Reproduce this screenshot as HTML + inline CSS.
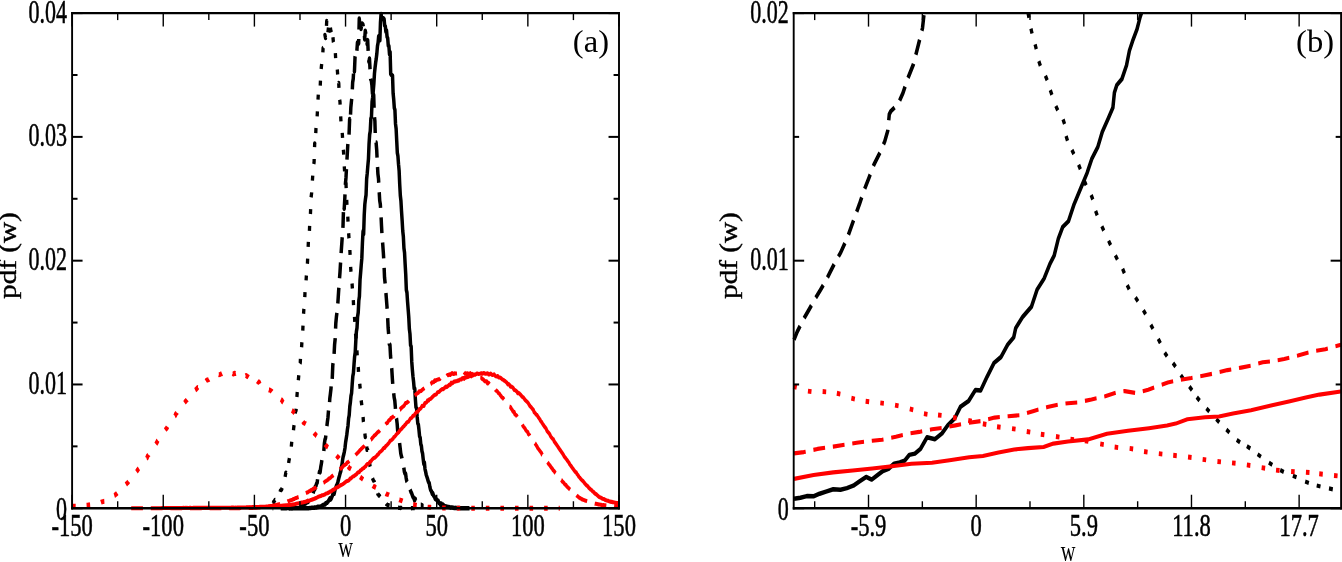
<!DOCTYPE html>
<html><head><meta charset="utf-8"><title>pdf(w)</title>
<style>html,body{margin:0;padding:0;background:#fff;overflow:hidden}svg{display:block;will-change:transform}</style>
</head><body>
<svg width="1342" height="562" viewBox="0 0 1342 562" font-family="'Liberation Serif', serif" fill="#000">
<defs><clipPath id="ca"><rect x="69.60" y="10.10" width="551.90" height="501.15"/></clipPath><clipPath id="cb"><rect x="791.20" y="10.10" width="552.40" height="501.15"/></clipPath></defs>
<g clip-path="url(#ca)"><g transform="scale(0.77500 1)"><path d="M372.95 508.24 L373.73 508.25 L374.50 508.25 L375.28 508.25 L376.06 508.24 L376.83 508.25 L377.61 508.22 L378.38 508.25 L379.16 508.24 L379.94 508.25 L380.71 508.22 L381.49 508.25 L382.27 508.25 L383.04 508.25 L383.82 508.21 L384.59 508.25 L385.37 508.24 L386.15 508.25 L386.92 508.22 L387.70 508.20 L388.48 508.25 L389.25 508.17 L390.03 508.17 L390.80 508.18 L391.58 508.15 L392.36 508.22 L393.13 508.18 L393.91 508.21 L394.69 508.16 L395.46 508.10 L396.24 508.17 L397.01 508.13 L397.79 508.13 L398.57 508.13 L399.34 508.09 L400.12 508.00 L400.90 508.08 L401.67 507.91 L402.45 507.70 L403.22 507.75 L404.00 507.81 L404.78 507.85 L405.55 507.78 L406.33 507.34 L407.11 507.51 L407.88 507.53 L408.66 507.29 L409.43 506.81 L410.21 507.07 L410.99 506.82 L411.76 506.74 L412.54 506.73 L413.32 506.75 L414.09 506.35 L414.87 506.09 L415.64 505.62 L416.42 505.26 L417.20 504.92 L417.97 504.81 L418.75 504.23 L419.53 504.46 L420.30 503.24 L421.08 503.07 L421.85 502.91 L422.63 502.01 L423.41 501.68 L424.18 500.42 L424.96 499.48 L425.74 498.31 L426.51 499.53 L427.29 498.70 L428.06 497.18 L428.84 495.72 L429.62 494.10 L430.39 493.28 L431.17 493.74 L431.95 491.07 L432.72 488.65 L433.50 487.54 L434.27 485.35 L435.05 484.42 L435.83 482.46 L436.60 480.00 L437.38 477.55 L438.16 475.41 L438.93 472.99 L439.71 471.26 L440.48 467.21 L441.26 464.55 L442.04 460.10 L442.81 456.63 L443.59 454.48 L444.37 451.59 L445.14 448.12 L445.92 442.46 L446.69 438.72 L447.47 434.92 L448.25 429.61 L449.02 425.86 L449.80 418.44 L450.58 415.18 L451.35 406.51 L452.13 402.27 L452.90 395.89 L453.68 393.12 L454.46 384.10 L455.23 376.22 L456.01 373.09 L456.79 364.52 L457.56 356.57 L458.34 352.45 L459.11 340.73 L459.89 331.53 L460.67 327.80 L461.44 316.47 L462.22 312.51 L463.00 300.58 L463.77 296.29 L464.55 279.80 L465.32 272.87 L466.10 265.10 L466.88 258.23 L467.65 242.81 L468.43 231.34 L469.21 234.05 L469.98 214.88 L470.76 204.22 L471.53 199.12 L472.31 195.02 L473.09 178.82 L473.86 173.27 L474.64 165.74 L475.42 159.08 L476.19 143.96 L476.97 134.45 L477.74 131.22 L478.52 118.77 L479.30 117.03 L480.07 101.94 L480.85 97.34 L481.63 91.06 L482.40 83.86 L483.18 73.48 L483.95 67.67 L484.73 62.59 L485.51 58.50 L486.28 53.37 L487.06 46.05 L487.84 42.70 L488.61 36.16 L489.39 35.75 L490.16 40.34 L490.94 22.12 L491.72 13.99 L492.49 18.59 L493.27 19.02 L494.05 18.29 L494.82 18.36 L495.60 18.94 L496.37 25.77 L497.15 26.10 L497.93 31.57 L498.70 30.36 L499.48 36.89 L500.26 38.19 L501.03 45.68 L501.81 45.94 L502.58 54.26 L503.36 51.79 L504.14 73.83 L504.91 74.87 L505.69 75.12 L506.47 75.47 L507.24 93.23 L508.02 99.36 L508.79 107.93 L509.57 109.88 L510.35 123.99 L511.12 128.70 L511.90 140.83 L512.68 152.88 L513.45 156.01 L514.23 164.31 L515.00 170.66 L515.78 184.65 L516.56 195.57 L517.33 200.92 L518.11 211.30 L518.89 220.50 L519.66 230.94 L520.44 236.39 L521.21 248.10 L521.99 252.71 L522.77 264.24 L523.54 274.61 L524.32 289.99 L525.10 292.51 L525.87 301.68 L526.65 309.16 L527.42 316.93 L528.20 328.83 L528.98 333.76 L529.75 344.98 L530.53 346.60 L531.30 361.73 L532.08 369.83 L532.86 376.50 L533.63 381.56 L534.41 388.57 L535.19 388.61 L535.96 399.37 L536.74 407.23 L537.51 408.26 L538.29 416.90 L539.07 423.28 L539.84 424.64 L540.62 429.94 L541.40 436.31 L542.17 437.83 L542.95 444.04 L543.72 445.89 L544.50 451.37 L545.28 453.58 L546.05 459.02 L546.83 463.99 L547.61 462.50 L548.38 469.10 L549.16 471.45 L549.93 474.60 L550.71 476.50 L551.49 478.34 L552.26 480.57 L553.04 482.18 L553.82 483.07 L554.59 486.62 L555.37 489.23 L556.14 490.71 L556.92 491.73 L557.70 493.83 L558.47 493.25 L559.25 495.36 L560.03 496.32 L560.80 497.13 L561.58 498.91 L562.35 499.44 L563.13 499.37 L563.91 500.16 L564.68 501.40 L565.46 500.94 L566.24 502.99 L567.01 503.07 L567.79 503.51 L568.56 504.97 L569.34 503.55 L570.12 504.52 L570.89 505.35 L571.67 504.65 L572.45 505.42 L573.22 505.74 L574.00 506.27 L574.77 506.29 L575.55 506.89 L576.33 506.50 L577.10 506.93 L577.88 506.97 L578.66 506.89 L579.43 507.19 L580.21 507.31 L580.98 507.40 L581.76 507.65 L582.54 507.49 L583.31 507.47 L584.09 507.65 L584.87 507.69 L585.64 507.96 L586.42 508.00 L587.19 508.09 L587.97 507.85 L588.75 508.03 L589.52 507.91 L590.30 508.13 L591.08 508.12 L591.85 508.10 L592.63 508.06 L593.40 508.13 L594.18 508.14 L594.96 508.16 L595.73 508.17 L596.51 508.24 L597.29 508.19 L598.06 508.21 L598.84 508.21 L599.61 508.19 L600.39 508.24 L601.17 508.22 L601.94 508.23 L602.72 508.22 L603.50 508.21 L604.27 508.25 L605.05 508.22 L605.82 508.19" stroke="#000" stroke-width="4.50" fill="none" stroke-linejoin="round" stroke-linecap="butt"/>
<path d="M351.78 508.25 L352.56 508.24 L352.58 508.25M362.07 508.23 L362.65 508.19 L363.42 508.23 L364.20 508.20 L364.98 508.14 L365.75 508.22 L366.53 508.17 L367.31 508.21 L368.08 508.16 L368.86 508.12 L369.63 508.19 L370.41 508.12 L371.19 508.10 L371.96 508.11 L372.74 508.13 L373.52 508.13 L374.29 507.98 L375.07 507.96 L375.84 507.63 L376.62 508.13 L377.40 507.77 L377.54 507.76M386.27 506.38 L386.71 506.52 L387.49 506.07 L388.26 505.99 L389.04 506.01 L389.82 505.46 L390.59 504.85 L391.37 504.99 L392.15 504.63 L392.92 504.13 L393.70 503.50 L394.47 502.66 L395.25 502.97 L396.03 501.89 L396.80 501.42 L397.58 501.82 L398.36 500.38 L398.77 499.88M404.03 493.40 L404.57 491.49 L405.34 489.88 L406.12 489.49 L406.89 486.58 L407.67 485.91 L408.45 483.64 L409.22 482.78 L409.79 479.26M411.72 474.27 L412.33 471.57 L413.10 472.03 L413.88 467.00 L414.66 463.82 L415.31 460.12M417.83 451.04 L418.54 443.76 L419.31 439.76 L420.09 438.00 L420.42 435.54M421.80 426.14 L422.42 421.91 L423.20 417.31 L423.88 410.48M425.29 402.08 L425.52 398.64 L426.30 393.81 L427.08 388.69 L427.26 386.42M428.69 378.93 L429.41 365.33 L429.71 363.17M431.11 353.79 L431.73 344.66 L432.51 338.64 L432.54 338.06M433.02 328.57 L433.29 323.36 L434.06 316.96 L434.73 312.88M435.90 303.46 L436.39 297.75 L437.17 288.25 L437.22 287.71M438.11 278.26 L438.72 271.97 L439.45 262.51M440.18 253.04 L440.27 251.77 L441.05 243.22 L441.57 237.30M442.42 227.84 L442.60 225.84 L443.12 212.06M443.91 207.74 L444.15 208.92 L444.93 198.10 L445.13 194.36M445.65 184.87 L445.71 183.88 L446.48 177.20 L447.01 169.14M447.69 159.66 L448.04 155.02 L448.81 144.39 L448.87 143.90M450.39 134.58 L451.14 119.01 L451.20 119.22M452.30 114.53 L452.69 107.43 L453.47 101.23 L453.83 98.81M454.63 89.35 L455.02 82.54 L455.80 78.80 L456.15 73.66M457.25 71.02 L457.35 71.50 L458.13 56.54 L458.19 56.22M460.49 50.74 L461.23 42.39 L462.01 44.17 L462.78 43.32 L462.92 38.99M463.22 29.50 L463.56 18.61 L464.07 23.49M465.29 22.82 L465.89 29.03 L466.66 23.72 L467.44 23.57 L468.22 24.32 L468.74 26.58M470.26 35.90 L470.55 39.42 L471.32 30.67 L472.06 34.09M473.57 43.11 L473.65 44.12 L474.43 40.11 L475.04 50.79M475.83 60.26 L475.98 61.89 L476.76 58.54 L477.48 69.25M478.26 78.71 L478.31 79.28 L479.08 80.42 L479.86 84.88 L480.64 94.10 L480.65 94.17M481.81 97.70 L482.19 94.84 L482.68 107.74M483.22 117.22 L483.74 121.01 L484.18 132.97M484.57 142.42 L485.29 142.52 L486.07 149.93 L486.52 157.54M487.14 167.02 L487.62 173.84 L488.40 178.65 L488.67 182.73M489.32 192.21 L489.95 200.63 L490.73 204.28 L491.04 207.89M491.76 217.36 L492.28 225.89 L492.76 233.13M493.66 242.58 L493.83 244.00 L494.61 252.36 L495.08 258.31M495.67 267.80 L496.16 277.40 L496.94 283.16 L496.98 283.53M497.99 292.97 L498.49 298.15 L499.27 305.89 L499.51 308.70M500.23 318.17 L500.82 328.10 L501.47 333.92M502.30 343.38 L502.37 344.21 L503.15 344.65 L503.92 356.07 L504.24 358.68M505.41 368.11 L505.48 368.63 L506.25 378.53 L506.75 383.85M508.00 393.26 L508.58 397.49 L509.36 400.30 L510.13 407.36 L510.26 408.87M511.51 418.24 L511.69 418.73 L512.46 423.78 L513.24 431.73 L513.77 433.85M515.58 442.98 L516.34 447.97 L517.12 453.31 L517.90 456.04 L518.67 458.26 L518.70 458.42M521.05 467.60 L521.78 471.79 L522.55 473.81 L523.33 473.65 L524.11 478.17 L524.88 481.34 L525.29 481.95M529.12 489.48 L529.54 490.38 L530.32 492.17 L531.09 493.04 L531.87 494.80 L532.65 496.48 L533.42 497.71 L534.20 498.29 L534.97 500.35 L535.75 498.70 L536.16 500.11M542.90 504.87 L543.51 504.87 L544.29 505.15 L545.07 505.71 L545.84 505.95 L546.62 505.96" stroke="#000" stroke-width="4.50" fill="none" stroke-linejoin="round" stroke-linecap="butt"/>
<path d="M351.80 503.36 L352.49 503.25 L353.26 501.68 L354.04 501.05 L354.82 499.94 L355.01 499.98M361.44 491.88 L361.80 490.66 L362.58 490.19 L363.35 489.70 L364.08 487.94M367.90 476.88 L368.01 476.39 L368.79 472.60 L369.17 473.10M372.45 462.97 L372.67 461.52 L373.44 458.29 L373.47 458.08M375.91 446.64 L376.42 441.67M378.70 430.14 L378.88 428.62 L379.41 425.19M381.02 413.51 L381.21 411.84 L381.98 410.51 L382.13 408.73M383.11 396.97 L383.54 392.15 L383.56 391.99M384.94 380.28 L385.09 378.93 L385.50 375.31M386.95 363.65 L387.42 362.86 L387.68 358.79M389.15 347.25 L389.51 342.26M390.70 330.54 L390.95 325.55M391.70 313.77 L392.07 309.31 L392.16 308.80M393.28 297.07 L393.55 292.07M394.97 280.44 L395.18 277.41 L395.35 275.45M396.60 263.72 L396.73 262.79 L396.96 258.74M397.62 246.96 L397.90 241.97M399.27 230.83 L399.52 225.83M400.52 214.09 L400.61 213.39 L400.83 209.10M401.44 197.31 L402.17 192.49 L402.18 192.37M403.10 180.61 L403.52 175.62M404.87 163.92 L405.27 162.25 L405.41 158.97M405.89 147.18 L406.05 143.39 L406.70 144.40M407.44 133.03 L407.60 130.14 L407.77 128.04M409.23 116.37 L409.57 111.38M410.36 99.61 L410.69 94.62M413.22 85.72 L413.50 80.72M414.45 68.97 L414.59 67.60 L415.06 64.00M416.59 52.33 L416.91 47.98 L417.44 47.61M419.11 36.03 L419.24 34.84 L420.02 38.10 L420.09 37.66M421.26 25.93 L421.57 20.98 L421.58 21.03M423.14 32.42 L423.83 27.47M426.30 27.52 L427.01 31.32 L427.32 32.41M429.62 37.32 L430.11 41.60 L430.32 42.26M432.73 53.15 L433.09 58.14M435.21 69.52 L435.54 72.81 L435.66 74.50M437.08 83.06 L437.10 83.02 L437.35 87.98M438.26 99.72 L438.65 101.39 L438.86 104.67M439.61 116.45 L439.94 121.44M441.59 132.92 L441.75 134.63 L442.01 137.91M443.04 149.66 L443.31 152.24 L443.46 154.64M444.24 166.42 L444.65 171.40M446.28 183.04 L446.41 183.43 L446.68 188.01M447.37 199.79 L447.65 204.78M448.76 216.52 L449.06 221.51M449.88 233.29 L450.29 238.23 L450.30 238.27M451.44 250.00 L451.73 254.99M452.45 266.77 L452.62 269.57 L452.87 271.75M454.26 283.47 L454.70 288.45M455.91 300.18 L456.18 305.17M457.40 316.89 L457.82 321.88M458.79 333.64 L458.83 334.16 L459.46 338.59M460.54 350.34 L460.90 355.33M462.27 367.00 L462.58 371.99M464.13 383.68 L464.27 384.89 L464.79 388.64M466.05 400.36 L466.59 403.63 L466.81 405.30M468.50 416.97 L468.92 421.65 L468.99 421.94M470.83 433.59 L471.25 437.04 L471.85 435.63M473.15 446.49 L473.58 449.93 L474.36 449.61 L474.43 450.30M476.80 461.76 L477.46 466.03 L477.65 466.68M480.66 478.07 L481.34 479.71 L482.12 480.77 L482.90 481.70 L483.12 482.36M487.32 493.23 L487.55 494.06 L488.33 494.51 L489.11 495.71 L489.88 495.93 L490.59 496.65M498.20 503.65 L498.42 503.92 L499.20 504.50 L499.97 504.79 L500.75 504.97 L501.53 505.34 L502.30 505.47 L502.70 505.57M513.64 507.70 L513.95 507.71 L514.72 507.84 L515.50 507.92 L516.27 507.93 L517.05 508.01 L517.83 507.82 L518.57 508.02M530.23 508.25 L530.25 508.25 L531.02 508.23 L531.80 508.15 L532.58 508.20 L533.35 508.22 L534.13 508.21 L534.90 508.20 L535.23 508.21" stroke="#000" stroke-width="4.30" fill="none" stroke-linejoin="round" stroke-linecap="butt"/>
<path d="M208.29 507.99 L209.47 507.98 L210.65 508.01 L211.82 507.98 L213.00 508.00 L214.17 508.02 L215.35 508.00 L216.53 507.97 L217.70 507.98 L218.88 508.00 L220.05 507.97 L221.23 507.98 L222.41 507.96 L223.58 507.96 L224.76 507.99 L225.93 507.96 L227.11 507.98 L228.29 507.93 L229.46 507.94 L230.64 507.95 L231.82 507.97 L232.99 507.95 L234.17 507.94 L235.34 507.97 L236.52 507.89 L237.70 507.93 L238.87 507.90 L240.05 507.95 L241.22 507.89 L242.40 507.95 L243.58 507.94 L244.75 507.91 L245.93 507.91 L247.11 507.96 L248.28 507.93 L249.46 507.88 L250.63 507.85 L251.81 507.88 L252.99 507.90 L254.16 507.87 L255.34 507.91 L256.51 507.87 L257.69 507.91 L258.87 507.88 L260.04 507.87 L261.22 507.85 L262.39 507.87 L263.57 507.83 L264.75 507.86 L265.92 507.83 L267.10 507.83 L268.28 507.89 L269.45 507.84 L270.63 507.83 L271.80 507.85 L272.98 507.82 L274.16 507.86 L275.33 507.80 L276.51 507.80 L277.68 507.80 L278.86 507.74 L280.04 507.79 L281.21 507.79 L282.39 507.80 L283.57 507.77 L284.74 507.80 L285.92 507.73 L287.09 507.78 L288.27 507.75 L289.45 507.69 L290.62 507.71 L291.80 507.72 L292.97 507.68 L294.15 507.72 L295.33 507.68 L296.50 507.70 L297.68 507.72 L298.85 507.67 L300.03 507.64 L301.21 507.67 L302.38 507.68 L303.56 507.66 L304.74 507.70 L305.91 507.64 L307.09 507.64 L308.26 507.53 L309.44 507.59 L310.62 507.60 L311.79 507.50 L312.97 507.52 L314.14 507.49 L315.32 507.46 L316.50 507.43 L317.67 507.42 L318.85 507.35 L320.03 507.33 L321.20 507.34 L322.38 507.30 L323.55 507.30 L324.73 507.22 L325.91 507.17 L327.08 507.14 L328.26 507.11 L329.43 507.11 L330.61 507.00 L331.79 507.04 L332.96 507.00 L334.14 506.98 L335.31 506.92 L336.49 506.89 L337.67 506.75 L338.84 506.78 L340.02 506.83 L341.20 506.73 L342.37 506.73 L343.55 506.57 L344.72 506.50 L345.90 506.54 L347.08 506.44 L348.25 506.43 L349.43 506.35 L350.60 506.23 L351.78 506.29 L352.96 506.28 L354.13 506.12 L355.31 506.08 L356.49 506.01 L357.66 505.93 L358.84 505.96 L360.01 505.98 L361.19 505.73 L362.37 505.75 L363.54 505.73 L364.72 505.65 L365.89 505.43 L367.07 505.42 L368.25 505.33 L369.42 505.21 L370.60 505.23 L371.77 505.17 L372.95 505.06 L374.13 504.97 L375.30 504.81 L376.48 504.73 L377.66 504.52 L378.83 504.41 L380.01 504.21 L381.18 503.98 L382.36 503.73 L383.54 503.52 L384.71 503.45 L385.89 503.24 L387.06 503.10 L388.24 502.75 L389.42 502.48 L390.59 502.45 L391.77 502.09 L392.95 501.95 L394.12 501.68 L395.30 501.39 L396.47 501.18 L397.65 500.77 L398.83 500.74 L400.00 500.35 L401.18 499.98 L402.35 499.75 L403.53 499.25 L404.71 499.12 L405.88 498.58 L407.06 498.40 L408.23 497.87 L409.41 497.41 L410.59 496.82 L411.76 496.60 L412.94 496.15 L414.12 495.99 L415.29 495.33 L416.47 495.27 L417.64 494.88 L418.82 494.62 L420.00 493.99 L421.17 493.44 L422.35 493.24 L423.52 492.74 L424.70 492.26 L425.88 491.73 L427.05 491.24 L428.23 490.82 L429.41 489.82 L430.58 489.82 L431.76 489.09 L432.93 488.31 L434.11 487.65 L435.29 487.32 L436.46 486.80 L437.64 486.20 L438.81 485.72 L439.99 484.96 L441.17 484.67 L442.34 484.20 L443.52 483.54 L444.69 482.84 L445.87 482.01 L447.05 481.31 L448.22 481.07 L449.40 480.64 L450.58 479.96 L451.75 478.54 L452.93 478.38 L454.10 477.49 L455.28 476.46 L456.46 476.32 L457.63 475.49 L458.81 474.85 L459.98 474.23 L461.16 473.05 L462.34 472.23 L463.51 472.15 L464.69 470.70 L465.87 470.21 L467.04 469.32 L468.22 468.52 L469.39 468.10 L470.57 467.04 L471.75 466.40 L472.92 464.84 L474.10 463.93 L475.27 463.63 L476.45 463.12 L477.63 461.65 L478.80 461.15 L479.98 459.76 L481.15 458.82 L482.33 458.01 L483.51 457.69 L484.68 456.96 L485.86 455.96 L487.04 454.89 L488.21 454.20 L489.39 452.66 L490.56 451.88 L491.74 451.15 L492.92 450.31 L494.09 449.05 L495.27 447.87 L496.44 447.90 L497.62 446.27 L498.80 445.46 L499.97 444.61 L501.15 443.50 L502.33 442.36 L503.50 440.81 L504.68 440.40 L505.85 439.55 L507.03 438.81 L508.21 437.14 L509.38 436.63 L510.56 435.40 L511.73 434.10 L512.91 433.30 L514.09 432.43 L515.26 431.34 L516.44 429.95 L517.61 429.25 L518.79 428.14 L519.97 427.05 L521.14 426.30 L522.32 425.04 L523.50 424.24 L524.67 422.71 L525.85 421.93 L527.02 421.74 L528.20 420.19 L529.38 418.72 L530.55 418.22 L531.73 417.31 L532.90 415.81 L534.08 415.61 L535.26 414.22 L536.43 413.06 L537.61 412.01 L538.79 411.79 L539.96 410.94 L541.14 408.95 L542.31 408.91 L543.49 407.73 L544.67 405.83 L545.84 406.07 L547.02 405.86 L548.19 403.00 L549.37 402.84 L550.55 402.24 L551.72 400.43 L552.90 400.75 L554.07 399.31 L555.25 399.08 L556.43 398.40 L557.60 397.24 L558.78 396.36 L559.96 395.43 L561.13 394.71 L562.31 394.67 L563.48 393.78 L564.66 392.23 L565.84 392.08 L567.01 391.61 L568.19 390.40 L569.36 389.71 L570.54 389.10 L571.72 389.24 L572.89 388.55 L574.07 387.45 L575.25 386.67 L576.42 387.12 L577.60 386.24 L578.77 385.59 L579.95 384.52 L581.13 384.89 L582.30 382.73 L583.48 383.37 L584.65 382.65 L585.83 381.47 L587.01 381.71 L588.18 381.21 L589.36 381.18 L590.53 380.47 L591.71 380.73 L592.89 379.89 L594.06 379.45 L595.24 379.52 L596.42 378.27 L597.59 378.16 L598.77 378.85 L599.94 377.34 L601.12 377.79 L602.30 376.80 L603.47 377.12 L604.65 376.63 L605.82 375.99 L607.00 375.04 L608.18 376.33 L609.35 375.56 L610.53 375.33 L611.71 374.45 L612.88 374.80 L614.06 374.26 L615.23 373.60 L616.41 373.62 L617.59 373.94 L618.76 373.77 L619.94 373.56 L621.11 373.28 L622.29 373.70 L623.47 373.35 L624.64 373.11 L625.82 373.64 L626.99 373.73 L628.17 373.49 L629.35 373.37 L630.52 374.47 L631.70 374.45 L632.88 373.57 L634.05 374.32 L635.23 375.00 L636.40 374.71 L637.58 374.37 L638.76 375.73 L639.93 376.29 L641.11 376.42 L642.28 376.07 L643.46 377.56 L644.64 377.53 L645.81 377.83 L646.99 378.53 L648.17 379.54 L649.34 379.73 L650.52 380.61 L651.69 381.03 L652.87 381.93 L654.05 382.78 L655.22 384.34 L656.40 384.06 L657.57 385.13 L658.75 386.72 L659.93 386.60 L661.10 387.22 L662.28 388.17 L663.45 389.95 L664.63 390.03 L665.81 390.96 L666.98 391.52 L668.16 393.21 L669.34 393.01 L670.51 393.80 L671.69 394.70 L672.86 395.90 L674.04 396.88 L675.22 397.40 L676.39 398.63 L677.57 400.00 L678.74 400.76 L679.92 401.66 L681.10 402.55 L682.27 403.96 L683.45 405.62 L684.63 406.69 L685.80 407.64 L686.98 408.85 L688.15 409.85 L689.33 412.24 L690.51 413.08 L691.68 414.54 L692.86 415.00 L694.03 416.43 L695.21 417.92 L696.39 419.10 L697.56 420.96 L698.74 421.94 L699.91 423.49 L701.09 424.86 L702.27 426.32 L703.44 427.32 L704.62 428.65 L705.80 430.87 L706.97 431.92 L708.15 433.08 L709.32 434.28 L710.50 436.36 L711.68 437.49 L712.85 438.65 L714.03 439.36 L715.20 441.55 L716.38 442.76 L717.56 444.01 L718.73 445.41 L719.91 446.70 L721.09 448.13 L722.26 449.54 L723.44 450.77 L724.61 452.14 L725.79 453.47 L726.97 454.81 L728.14 456.58 L729.32 457.54 L730.49 458.87 L731.67 460.03 L732.85 461.38 L734.02 462.47 L735.20 464.38 L736.37 465.50 L737.55 466.69 L738.73 468.16 L739.90 469.32 L741.08 470.58 L742.26 471.84 L743.43 472.43 L744.61 474.19 L745.78 475.05 L746.96 476.75 L748.14 477.67 L749.31 478.99 L750.49 479.89 L751.66 480.68 L752.84 481.66 L754.02 482.88 L755.19 483.94 L756.37 484.98 L757.55 485.85 L758.72 486.59 L759.90 488.01 L761.07 488.66 L762.25 489.62 L763.43 490.13 L764.60 491.33 L765.78 491.84 L766.95 492.98 L768.13 493.78 L769.31 494.21 L770.48 495.05 L771.66 496.03 L772.83 496.81 L774.01 497.31 L775.19 497.65 L776.36 498.21 L777.54 498.78 L778.72 499.04 L779.89 499.35 L781.07 500.02 L782.24 500.26 L783.42 500.67 L784.60 500.78 L785.77 501.17 L786.95 501.50 L788.12 501.85 L789.30 501.85 L790.48 502.17 L791.65 502.34 L792.83 502.57 L794.01 502.70 L795.18 503.06 L796.36 503.13 L797.53 503.16 L798.71 503.14" stroke="#f00" stroke-width="4.10" fill="none" stroke-linejoin="round" stroke-linecap="butt"/>
<path d="M169.25 508.25 L170.42 508.25 L171.60 508.25 L172.77 508.25 L173.95 508.25 L175.13 508.25 L176.30 508.25 L177.48 508.25 L178.65 508.25 L179.83 508.25 L181.01 508.25 L182.18 508.25 L183.36 508.25 L184.45 508.25M194.55 508.25 L195.12 508.25 L196.30 508.25 L197.47 508.25 L198.65 508.25 L199.82 508.25 L201.00 508.25 L202.18 508.25 L203.35 508.25 L204.53 508.25 L205.71 508.25 L206.88 508.25 L208.06 508.25 L209.23 508.25 L209.75 508.25M219.85 508.25 L221.00 508.25 L222.17 508.25 L223.35 508.25 L224.52 508.25 L225.70 508.25 L226.88 508.25 L228.05 508.25 L229.23 508.25 L230.40 508.25 L231.58 508.25 L232.76 508.25 L233.93 508.25 L235.05 508.25M245.15 508.25 L245.69 508.25 L246.87 508.25 L248.05 508.25 L249.22 508.25 L250.40 508.25 L251.57 508.25 L252.75 508.25 L253.93 508.25 L255.10 508.25 L256.28 508.25 L257.46 508.25 L258.63 508.25 L259.81 508.25 L260.35 508.25M270.45 508.24 L271.57 508.24 L272.74 508.24 L273.92 508.24 L275.10 508.23 L276.27 508.23 L277.45 508.23 L278.63 508.23 L279.80 508.22 L280.98 508.21 L282.15 508.22 L283.33 508.21 L284.51 508.20 L285.65 508.20M295.74 508.16 L296.27 508.18 L297.44 508.15 L298.62 508.15 L299.80 508.16 L300.97 508.13 L302.15 508.14 L303.32 508.16 L304.50 508.14 L305.68 508.11 L306.85 508.08 L308.03 508.13 L309.20 508.10 L310.38 508.06 L310.94 508.06M321.04 507.92 L322.14 507.91 L323.32 507.89 L324.49 507.86 L325.67 507.84 L326.85 507.77 L328.02 507.72 L329.20 507.67 L330.38 507.66 L331.55 507.60 L332.73 507.50 L333.90 507.42 L335.08 507.34 L336.22 507.26M346.26 506.39 L346.84 506.35 L348.02 506.30 L349.19 506.08 L350.37 505.94 L351.55 505.77 L352.72 505.50 L353.90 505.46 L355.07 505.35 L356.25 505.06 L357.43 504.89 L358.60 504.57 L359.78 504.35 L360.95 504.09 L361.24 504.05M370.96 501.49 L371.54 501.21 L372.72 500.96 L373.89 500.59 L375.07 500.27 L376.24 499.92 L377.42 499.82 L378.60 499.02 L379.77 498.88 L380.95 498.28 L382.12 498.08 L383.30 497.61 L384.48 497.21 L385.32 496.98M394.60 493.09 L395.06 492.92 L396.24 492.50 L397.41 492.19 L398.59 491.37 L399.77 490.99 L400.94 490.50 L402.12 489.77 L403.30 489.26 L404.47 488.72 L405.65 488.44 L406.82 487.78 L408.00 487.41 L408.43 487.07M417.36 482.88 L417.41 482.86 L418.58 482.14 L419.76 481.31 L420.94 480.87 L422.11 480.25 L423.29 479.72 L424.47 478.47 L425.64 478.18 L426.82 477.52 L427.99 476.54 L429.17 475.90 L430.19 475.09M438.37 469.31 L438.58 469.17 L439.76 468.57 L440.93 467.90 L442.11 466.87 L443.28 465.80 L444.46 465.19 L445.64 464.38 L446.81 463.98 L447.99 462.41 L449.16 462.22 L450.34 461.32 L450.70 460.99M458.86 455.14 L459.75 454.14 L460.93 453.38 L462.10 452.18 L463.28 451.45 L464.45 450.23 L465.63 449.41 L466.81 448.45 L467.98 447.45 L469.16 446.70 L470.33 446.05 L470.63 445.70M478.47 439.81 L478.57 439.77 L479.74 438.75 L480.92 437.45 L482.10 436.46 L483.27 435.35 L484.45 434.82 L485.62 433.74 L486.80 432.67 L487.98 431.77 L489.15 431.42 L490.16 430.38M497.56 424.37 L498.56 423.30 L499.74 423.09 L500.91 421.42 L502.09 420.06 L503.27 420.06 L504.44 418.13 L505.62 417.90 L506.79 416.72 L507.97 416.81 L508.51 415.72M515.95 409.65 L516.20 409.60 L517.38 408.16 L518.56 407.69 L519.73 406.60 L520.91 406.06 L522.08 404.81 L523.26 403.09 L524.44 402.99 L525.61 402.20 L526.79 401.75 L527.59 400.77M535.14 395.69 L536.20 394.82 L537.37 393.83 L538.55 393.19 L539.73 392.87 L540.90 391.18 L542.08 391.32 L543.25 390.99 L544.43 390.15 L545.61 389.28 L546.78 388.71 L547.67 388.14M555.46 384.16 L556.19 383.77 L557.37 382.42 L558.54 382.45 L559.72 382.01 L560.90 380.42 L562.07 380.88 L563.25 379.92 L564.42 379.77 L565.60 379.26 L566.78 379.25 L567.95 378.76 L568.26 378.40M576.65 375.92 L577.36 374.97 L578.54 375.25 L579.71 374.32 L580.89 375.00 L582.07 373.90 L583.24 373.02 L584.42 373.77 L585.60 374.00 L586.77 373.37 L587.95 373.44 L589.12 373.52 L589.71 373.47M598.68 372.04 L599.71 373.20 L600.88 373.48 L602.06 373.52 L603.24 373.25 L604.41 373.91 L605.59 374.37 L606.77 373.29 L607.94 374.82 L609.12 373.83 L610.29 374.69 L611.05 375.21M619.73 377.53 L620.88 377.62 L622.06 378.82 L623.23 379.28 L624.41 380.12 L625.58 381.27 L626.76 381.33 L627.94 381.24 L629.11 383.40 L630.29 382.79 L631.46 384.01 L631.58 384.14M639.24 389.73 L639.70 390.42 L640.87 390.74 L642.05 391.77 L643.23 393.19 L644.40 393.72 L645.58 395.18 L646.75 396.30 L647.93 397.63 L649.11 398.04 L650.28 399.48 L650.34 399.54M657.38 406.59 L658.52 406.90 L659.69 408.53 L660.87 409.87 L662.04 411.65 L663.22 411.72 L664.40 414.30 L665.57 414.85 L666.75 415.72 L667.41 416.86M673.99 424.44 L674.98 426.10 L676.16 427.33 L677.33 428.40 L678.51 430.28 L679.69 431.30 L680.86 431.83 L682.04 434.31 L683.21 434.95 L683.62 435.66M690.23 443.16 L690.27 443.19 L691.45 444.74 L692.62 446.12 L693.80 447.94 L694.98 449.10 L696.15 450.37 L697.33 451.60 L698.50 452.77 L699.68 454.80 L699.80 454.86M706.50 462.22 L706.74 462.49 L707.91 464.03 L709.09 465.06 L710.26 466.22 L711.44 467.61 L712.62 468.56 L713.79 470.22 L714.97 470.97 L716.15 472.41 L716.95 473.12M724.19 479.93 L724.38 480.02 L725.55 481.58 L726.73 482.14 L727.91 483.30 L729.08 484.55 L730.26 484.98 L731.44 486.57 L732.61 487.32 L733.79 488.19 L734.96 489.04 L735.61 489.55M743.87 495.31 L744.37 495.76 L745.55 496.32 L746.72 497.31 L747.90 497.80 L749.08 498.52 L750.25 498.73 L751.43 499.58 L752.61 499.83 L753.78 500.12 L754.96 500.50 L756.13 500.83 L757.31 501.13 L757.60 501.22M767.37 503.59 L767.90 503.71 L769.07 503.83 L770.25 503.96 L771.42 504.16 L772.60 504.55 L773.78 504.57 L774.95 504.80 L776.13 504.87 L777.30 505.17 L778.48 505.06 L779.66 505.26 L780.83 505.32 L782.01 505.44 L782.37 505.48M792.43 506.13 L792.59 506.15 L793.77 506.18 L794.95 506.19 L796.12 506.24 L797.30 506.27 L798.47 506.30" stroke="#f00" stroke-width="4.10" fill="none" stroke-linejoin="round" stroke-linecap="butt"/>
<path d="M93.03 506.41 L94.21 506.31 L95.38 506.29 L96.56 506.29 L97.63 506.32M111.71 505.26 L111.85 505.25 L113.03 505.16 L114.20 504.99 L115.38 504.86 L116.29 504.78M130.17 502.28 L130.67 502.08 L131.84 501.79 L133.02 501.59 L134.20 501.30 L134.64 501.26M147.40 495.47 L148.31 495.11 L149.49 494.30 L150.66 493.59 L151.29 493.06M162.42 484.43 L162.42 484.43 L163.60 483.53 L164.78 482.76 L165.95 481.61 L165.99 481.56M176.09 471.72 L176.54 471.31 L177.71 469.86 L178.89 468.57 L179.19 468.34M188.96 458.25 L189.47 458.06 L190.65 455.92 L191.83 454.94 L191.87 454.87M201.06 444.22 L201.24 444.02 L202.41 442.46 L203.59 440.51 L203.67 440.44M213.10 429.98 L214.17 428.98 L215.35 428.04 L216.17 426.64M225.51 416.15 L225.93 415.92 L227.11 413.77 L228.29 412.89 L228.38 412.71M238.03 402.75 L238.87 402.02 L240.05 400.80 L241.22 400.01 L241.47 399.73M251.84 390.10 L252.99 389.42 L254.16 388.43 L255.34 387.33 L255.46 387.34M265.68 381.05 L265.92 380.85 L267.10 379.84 L268.28 379.91 L269.45 379.46 L269.69 379.27M282.26 374.74 L282.39 374.78 L283.57 374.68 L284.74 374.01 L285.92 373.88 L286.57 373.52M300.25 373.48 L301.21 374.01 L302.38 373.14 L303.56 373.61 L304.30 373.39M316.91 375.82 L317.67 375.46 L318.85 376.48 L320.03 376.67 L320.84 377.25M331.95 381.13 L332.96 382.02 L334.14 382.07 L335.17 383.87M346.87 389.92 L347.08 390.00 L348.25 390.00 L349.43 390.69 L350.60 391.19 L350.99 391.60M362.30 399.39 L362.37 399.43 L363.54 400.16 L364.72 401.76 L365.66 402.42M376.52 410.45 L377.66 411.03 L378.83 411.90 L380.01 412.73 L380.34 412.99M390.85 421.58 L391.77 422.76 L392.95 423.24 L394.12 423.65 L394.62 423.95M405.28 432.92 L405.88 433.63 L407.06 434.45 L408.23 435.69 L408.65 436.01M419.64 444.48 L420.00 444.93 L421.17 445.80 L422.35 446.74 L423.26 447.28M434.24 455.56 L435.29 456.61 L436.46 457.32 L437.59 458.65M449.32 466.42 L449.40 466.47 L450.58 467.94 L451.75 468.42 L452.93 469.09 L452.93 469.09M464.66 477.00 L464.69 477.02 L465.87 477.72 L467.04 478.51 L468.22 479.32 L468.52 479.52M481.01 485.81 L481.15 485.91 L482.33 486.49 L483.51 486.69 L484.68 487.61 L485.06 487.80M497.75 493.43 L498.80 494.11 L499.97 494.41 L501.15 494.63 L502.00 495.03M515.07 499.87 L515.26 499.95 L516.44 500.14 L517.61 500.53 L518.79 500.71 L519.50 501.01M533.12 504.64 L534.08 504.71 L535.26 504.93 L536.43 505.21 L537.61 505.48 L537.64 505.48M551.73 507.07 L552.90 507.18 L554.07 507.27 L555.25 507.27 L556.32 507.35M570.50 507.90 L570.54 507.90 L571.72 507.97 L572.89 507.99 L574.07 507.99 L575.09 507.99M589.29 508.12 L589.36 508.12 L590.53 508.15 L591.71 508.18 L592.89 508.16 L593.89 508.14M608.09 508.21 L608.18 508.21 L609.35 508.22 L610.53 508.22 L611.71 508.22 L612.69 508.21M626.89 508.25 L626.99 508.25 L628.17 508.25 L629.35 508.25 L630.52 508.25 L631.49 508.25M645.69 508.25 L645.81 508.25 L646.99 508.25 L648.17 508.25 L649.34 508.25 L650.29 508.25M664.49 508.25 L664.63 508.25 L665.81 508.25 L666.98 508.25 L668.16 508.25 L669.09 508.25M683.29 508.25 L683.45 508.25 L684.63 508.25 L685.80 508.25 L686.98 508.25 L687.89 508.25M702.09 508.25 L702.27 508.25 L703.44 508.25 L704.62 508.25 L705.80 508.25 L706.69 508.25M720.89 508.25 L721.09 508.25 L722.26 508.25" stroke="#f00" stroke-width="4.90" fill="none" stroke-linejoin="round" stroke-linecap="butt"/></g></g>
<g clip-path="url(#cb)"><g transform="scale(0.77500 1)"><path d="M1024.52 498.80 L1032.77 497.70 L1041.03 496.10 L1050.32 496.20 L1057.55 493.70 L1065.81 491.60 L1075.10 489.20 L1084.52 489.70 L1092.77 488.10 L1101.03 485.70 L1109.29 481.30 L1117.55 476.90 L1124.77 479.60 L1132.00 475.30 L1139.23 471.00 L1146.45 468.90 L1153.68 463.60 L1160.90 462.40 L1167.10 460.80 L1173.29 454.90 L1180.52 453.60 L1187.74 448.80 L1196.13 437.30 L1206.45 439.20 L1215.48 433.40 L1222.97 425.30 L1231.87 418.40 L1239.35 406.80 L1249.81 401.00 L1258.71 389.90 L1265.29 390.60 L1273.68 376.70 L1282.71 362.80 L1291.61 357.00 L1300.52 344.30 L1308.00 337.40 L1310.58 328.10 L1319.74 316.70 L1330.84 306.80 L1338.19 289.70 L1347.35 278.30 L1354.71 264.00 L1360.26 255.50 L1365.68 238.40 L1371.23 227.00 L1378.58 221.30 L1385.94 204.20 L1395.10 187.10 L1402.84 172.70 L1408.65 159.10 L1416.52 147.00 L1422.32 131.90 L1430.06 118.30 L1436.00 107.70 L1437.94 92.60 L1441.03 85.10 L1447.61 79.00 L1453.55 65.40 L1457.42 50.30 L1461.29 41.30 L1467.10 29.20 L1471.10 17.10 L1473.03 12.60" stroke="#000" stroke-width="4.50" fill="none" stroke-linejoin="round" stroke-linecap="butt"/>
<path d="M1024.52 339.70 L1028.52 332.00 L1032.36 326.00M1037.58 318.07 L1044.65 308.60 L1047.00 305.39M1052.62 297.73 L1052.65 297.70 L1058.71 289.90 L1062.27 285.22M1067.69 277.42 L1070.71 272.80 L1076.28 264.16M1081.86 256.47 L1084.77 252.50 L1090.19 243.07M1094.73 234.73 L1100.90 221.40 L1101.37 220.40M1105.40 211.79 L1108.90 204.30 L1111.88 197.39M1115.73 188.71 L1121.29 177.80 L1122.84 174.60M1126.98 166.05 L1127.87 164.20 L1135.37 152.67M1139.98 144.37 L1141.55 141.50 L1145.42 131.00 L1145.58 129.67M1146.75 120.24 L1147.48 114.30 L1149.42 111.30 L1154.33 107.45M1160.79 100.71 L1165.03 93.20 L1167.83 86.59M1171.66 77.90 L1178.58 64.40 L1178.78 63.81M1181.74 54.78 L1184.52 46.30 L1186.61 39.75M1189.49 30.70 L1190.32 28.10 L1192.16 15.16" stroke="#000" stroke-width="4.50" fill="none" stroke-linejoin="round" stroke-linecap="butt"/>
<path d="M1326.50 12.97L1327.70 17.83M1330.26 28.70L1331.68 33.50M1335.62 44.42L1337.15 49.18M1340.42 61.21L1342.42 65.79M1348.93 75.77L1351.20 80.23M1355.23 90.22L1357.28 94.78M1362.39 106.02L1364.84 110.38M1371.66 119.40L1373.63 124.00M1375.61 136.07L1377.42 140.73M1383.14 149.83L1385.63 154.17M1391.76 164.77L1394.04 169.23M1399.08 180.79L1401.44 185.21M1407.95 194.95L1410.11 199.45M1413.69 210.82L1415.73 215.38M1421.73 226.23L1424.21 230.57M1430.45 240.76L1433.03 245.04M1439.17 255.39L1441.86 259.61M1448.54 268.78L1450.82 273.22M1454.46 285.06L1457.03 289.34M1465.10 297.48L1468.32 301.32M1475.32 310.27L1478.23 314.33M1484.94 324.72L1487.71 328.88M1494.51 338.91L1497.24 343.09M1502.81 352.56L1505.96 356.44M1513.52 363.07L1516.93 366.73M1523.62 375.14L1526.96 378.86M1534.67 386.59L1538.11 390.21M1544.27 397.16L1547.86 400.64M1556.69 408.26L1560.47 411.54M1569.42 419.21L1573.29 422.39M1582.40 429.58L1586.37 432.62M1595.80 439.80L1600.07 442.40M1608.89 446.12L1613.30 448.48M1622.74 454.24L1627.06 456.76M1637.27 462.63L1641.69 464.97M1651.88 470.05L1656.51 471.95M1668.22 475.67L1672.94 477.33M1684.06 481.56L1688.84 483.04M1698.97 485.48L1703.86 486.52M1714.83 488.45L1719.75 489.35" stroke="#000" stroke-width="4.30" fill="none" stroke-linecap="butt"/>
<path d="M1024.52 478.90 L1049.81 475.00 L1075.10 472.40 L1100.26 470.50 L1125.55 468.50 L1150.84 466.20 L1176.13 463.80 L1202.58 462.70 L1225.29 460.30 L1250.58 457.30 L1268.26 456.00 L1288.39 452.50 L1308.65 449.50 L1326.32 448.10 L1346.58 447.00 L1359.23 443.60 L1378.06 441.50 L1403.87 439.40 L1428.39 433.80 L1455.48 430.80 L1482.58 428.20 L1505.81 425.50 L1517.03 423.60 L1532.13 419.30 L1554.84 417.30 L1572.90 416.50 L1590.97 413.60 L1614.19 410.30 L1640.00 405.60 L1664.52 401.20 L1684.90 397.60 L1702.58 394.60 L1727.87 391.70 L1732.90 391.10" stroke="#f00" stroke-width="4.10" fill="none" stroke-linejoin="round" stroke-linecap="butt"/>
<path d="M1024.52 453.40 L1037.16 452.10 L1039.61 451.66M1049.55 449.86 L1054.84 448.90 L1064.60 447.79M1074.63 446.65 L1075.10 446.60 L1089.70 444.66M1099.73 443.41 L1105.42 442.70 L1114.84 441.76M1124.89 440.77 L1125.55 440.70 L1138.19 439.70 L1140.02 439.40M1149.99 437.77 L1155.87 436.80 L1164.93 435.01M1174.88 433.32 L1186.19 431.90 L1189.95 431.30M1199.92 429.72 L1202.58 429.30 L1215.02 428.01M1225.02 426.55 L1232.90 425.40 L1240.05 424.31M1250.04 422.78 L1250.58 422.70 L1265.15 421.16M1275.06 419.24 L1283.35 417.60 L1290.08 417.07M1300.15 416.27 L1301.03 416.20 L1315.32 415.26M1325.15 413.04 L1333.94 410.90 L1339.95 409.57M1349.82 407.40 L1351.61 407.00 L1364.79 404.82M1374.81 403.57 L1378.06 403.20 L1389.97 402.44M1399.94 400.88 L1408.39 399.50 L1414.92 398.28M1424.85 396.43 L1426.06 396.20 L1439.58 392.71M1449.57 391.30 L1451.23 391.10 L1464.65 392.86M1474.53 391.28 L1481.55 389.70 L1489.25 387.51M1498.96 384.74 L1506.84 382.50 L1513.75 381.32M1523.71 379.69 L1537.16 378.00 L1538.79 377.75M1548.77 376.23 L1553.55 375.50 L1563.79 373.86M1573.72 372.04 L1583.87 370.10 L1588.69 369.42M1598.69 368.00 L1601.55 367.60 L1613.71 365.67M1623.59 363.61 L1629.29 362.30 L1638.61 361.48M1648.62 360.18 L1657.03 359.00 L1663.61 357.71M1673.52 355.76 L1674.84 355.50 L1688.36 352.44M1698.30 350.75 L1710.19 349.20 L1713.33 348.51M1723.19 346.33 L1727.87 345.30 L1732.90 344.40" stroke="#f00" stroke-width="4.10" fill="none" stroke-linejoin="round" stroke-linecap="butt"/>
<path d="M1023.57 386.37L1028.04 387.43M1042.49 391.11L1047.06 391.69M1061.45 391.56L1066.04 391.84M1079.80 393.28L1084.33 394.12M1098.52 398.13L1103.03 399.07M1116.94 401.23L1121.51 401.77M1135.91 402.86L1140.48 403.34M1154.89 405.12L1159.43 405.88M1173.89 408.89L1178.37 409.91M1192.18 413.64L1196.72 414.36M1210.36 414.97L1214.93 415.43M1229.85 417.48L1234.41 418.12M1249.34 420.33L1253.88 421.07M1268.18 423.72L1272.72 424.48M1286.49 426.71L1291.06 427.29M1305.85 428.61L1310.41 429.19M1324.82 431.46L1329.37 432.14M1343.01 434.20L1347.57 434.80M1362.49 436.50L1367.05 437.10M1381.20 439.24L1385.77 439.76M1399.78 440.82L1404.35 441.38M1419.66 443.83L1424.21 444.57M1438.23 447.03L1442.80 447.57M1457.59 448.43L1462.15 448.97M1476.17 451.49L1480.73 452.11M1495.26 453.68L1499.84 454.12M1513.84 455.30L1518.42 455.70M1532.94 456.95L1537.51 457.45M1551.78 459.33L1556.35 459.87M1570.87 461.49L1575.45 461.91M1589.71 462.89L1594.29 463.31M1608.81 464.91L1613.38 465.49M1627.91 467.59L1632.47 468.21M1646.48 470.08L1651.06 470.52M1665.96 471.47L1670.55 471.73M1685.06 472.25L1689.65 472.55M1702.23 473.79L1706.81 474.21M1721.32 475.50L1725.90 475.90" stroke="#f00" stroke-width="4.90" fill="none" stroke-linecap="butt"/></g></g>
<g stroke="#000" fill="none" stroke-linecap="butt" shape-rendering="auto">
<path d="M72.10 508.25L72.10 494.75" stroke-width="1.40"/>
<path d="M72.10 13.10L72.10 26.60" stroke-width="1.40"/>
<path d="M163.25 508.25L163.25 494.75" stroke-width="1.40"/>
<path d="M163.25 13.10L163.25 26.60" stroke-width="1.40"/>
<path d="M254.40 508.25L254.40 494.75" stroke-width="1.40"/>
<path d="M254.40 13.10L254.40 26.60" stroke-width="1.40"/>
<path d="M345.55 508.25L345.55 494.75" stroke-width="1.40"/>
<path d="M345.55 13.10L345.55 26.60" stroke-width="1.40"/>
<path d="M436.70 508.25L436.70 494.75" stroke-width="1.40"/>
<path d="M436.70 13.10L436.70 26.60" stroke-width="1.40"/>
<path d="M527.85 508.25L527.85 494.75" stroke-width="1.40"/>
<path d="M527.85 13.10L527.85 26.60" stroke-width="1.40"/>
<path d="M619.00 508.25L619.00 494.75" stroke-width="1.40"/>
<path d="M619.00 13.10L619.00 26.60" stroke-width="1.40"/>
<path d="M117.67 508.25L117.67 501.25" stroke-width="1.40"/>
<path d="M117.67 13.10L117.67 20.10" stroke-width="1.40"/>
<path d="M208.82 508.25L208.82 501.25" stroke-width="1.40"/>
<path d="M208.82 13.10L208.82 20.10" stroke-width="1.40"/>
<path d="M299.98 508.25L299.98 501.25" stroke-width="1.40"/>
<path d="M299.98 13.10L299.98 20.10" stroke-width="1.40"/>
<path d="M391.12 508.25L391.12 501.25" stroke-width="1.40"/>
<path d="M391.12 13.10L391.12 20.10" stroke-width="1.40"/>
<path d="M482.27 508.25L482.27 501.25" stroke-width="1.40"/>
<path d="M482.27 13.10L482.27 20.10" stroke-width="1.40"/>
<path d="M573.42 508.25L573.42 501.25" stroke-width="1.40"/>
<path d="M573.42 13.10L573.42 20.10" stroke-width="1.40"/>
<path d="M72.10 508.25L82.56 508.25" stroke-width="2.00"/>
<path d="M619.00 508.25L608.54 508.25" stroke-width="2.00"/>
<path d="M72.10 384.46L82.56 384.46" stroke-width="2.00"/>
<path d="M619.00 384.46L608.54 384.46" stroke-width="2.00"/>
<path d="M72.10 260.68L82.56 260.68" stroke-width="2.00"/>
<path d="M619.00 260.68L608.54 260.68" stroke-width="2.00"/>
<path d="M72.10 136.89L82.56 136.89" stroke-width="2.00"/>
<path d="M619.00 136.89L608.54 136.89" stroke-width="2.00"/>
<path d="M72.10 13.10L82.56 13.10" stroke-width="2.00"/>
<path d="M619.00 13.10L608.54 13.10" stroke-width="2.00"/>
<path d="M72.10 446.36L77.52 446.36" stroke-width="2.00"/>
<path d="M619.00 446.36L613.58 446.36" stroke-width="2.00"/>
<path d="M72.10 322.57L77.52 322.57" stroke-width="2.00"/>
<path d="M619.00 322.57L613.58 322.57" stroke-width="2.00"/>
<path d="M72.10 198.78L77.52 198.78" stroke-width="2.00"/>
<path d="M619.00 198.78L613.58 198.78" stroke-width="2.00"/>
<path d="M72.10 74.99L77.52 74.99" stroke-width="2.00"/>
<path d="M619.00 74.99L613.58 74.99" stroke-width="2.00"/>
<path d="M71.15 13.10L619.95 13.10" stroke-width="2.30"/>
<path d="M71.15 508.25L619.95 508.25" stroke-width="2.30"/>
<path d="M72.10 11.95L72.10 509.40" stroke-width="1.90"/>
<path d="M619.00 11.95L619.00 509.40" stroke-width="1.90"/>
<path d="M868.51 508.25L868.51 494.75" stroke-width="1.40"/>
<path d="M868.51 13.10L868.51 26.60" stroke-width="1.40"/>
<path d="M976.17 508.25L976.17 494.75" stroke-width="1.40"/>
<path d="M976.17 13.10L976.17 26.60" stroke-width="1.40"/>
<path d="M1083.82 508.25L1083.82 494.75" stroke-width="1.40"/>
<path d="M1083.82 13.10L1083.82 26.60" stroke-width="1.40"/>
<path d="M1191.48 508.25L1191.48 494.75" stroke-width="1.40"/>
<path d="M1191.48 13.10L1191.48 26.60" stroke-width="1.40"/>
<path d="M1299.13 508.25L1299.13 494.75" stroke-width="1.40"/>
<path d="M1299.13 13.10L1299.13 26.60" stroke-width="1.40"/>
<path d="M814.68 508.25L814.68 501.25" stroke-width="1.40"/>
<path d="M814.68 13.10L814.68 20.10" stroke-width="1.40"/>
<path d="M922.34 508.25L922.34 501.25" stroke-width="1.40"/>
<path d="M922.34 13.10L922.34 20.10" stroke-width="1.40"/>
<path d="M1029.99 508.25L1029.99 501.25" stroke-width="1.40"/>
<path d="M1029.99 13.10L1029.99 20.10" stroke-width="1.40"/>
<path d="M1137.65 508.25L1137.65 501.25" stroke-width="1.40"/>
<path d="M1137.65 13.10L1137.65 20.10" stroke-width="1.40"/>
<path d="M1245.30 508.25L1245.30 501.25" stroke-width="1.40"/>
<path d="M1245.30 13.10L1245.30 20.10" stroke-width="1.40"/>
<path d="M793.70 508.25L804.16 508.25" stroke-width="2.00"/>
<path d="M1341.10 508.25L1330.64 508.25" stroke-width="2.00"/>
<path d="M793.70 260.68L804.16 260.68" stroke-width="2.00"/>
<path d="M1341.10 260.68L1330.64 260.68" stroke-width="2.00"/>
<path d="M793.70 13.10L804.16 13.10" stroke-width="2.00"/>
<path d="M1341.10 13.10L1330.64 13.10" stroke-width="2.00"/>
<path d="M793.70 384.46L799.12 384.46" stroke-width="2.00"/>
<path d="M1341.10 384.46L1335.67 384.46" stroke-width="2.00"/>
<path d="M793.70 136.89L799.12 136.89" stroke-width="2.00"/>
<path d="M1341.10 136.89L1335.67 136.89" stroke-width="2.00"/>
<path d="M792.75 13.10L1342.05 13.10" stroke-width="2.30"/>
<path d="M792.75 508.25L1342.05 508.25" stroke-width="2.30"/>
<path d="M793.70 11.95L793.70 509.40" stroke-width="1.90"/>
<path d="M1341.10 11.95L1341.10 509.40" stroke-width="1.90"/>
</g>
<text transform="translate(72.10 535.90) scale(0.7280 1)" text-anchor="middle" font-size="31.00" stroke="#000" stroke-width="0.55">-150</text>
<text transform="translate(163.25 535.90) scale(0.7280 1)" text-anchor="middle" font-size="31.00" stroke="#000" stroke-width="0.55">-100</text>
<text transform="translate(254.40 535.90) scale(0.7280 1)" text-anchor="middle" font-size="31.00" stroke="#000" stroke-width="0.55">-50</text>
<text transform="translate(345.55 535.90) scale(0.7280 1)" text-anchor="middle" font-size="31.00" stroke="#000" stroke-width="0.55">0</text>
<text transform="translate(436.70 535.90) scale(0.7280 1)" text-anchor="middle" font-size="31.00" stroke="#000" stroke-width="0.55">50</text>
<text transform="translate(527.85 535.90) scale(0.7280 1)" text-anchor="middle" font-size="31.00" stroke="#000" stroke-width="0.55">100</text>
<text transform="translate(619.00 535.90) scale(0.7280 1)" text-anchor="middle" font-size="31.00" stroke="#000" stroke-width="0.55">150</text>
<text transform="translate(67.10 520.12) scale(0.6580 1)" text-anchor="end" font-size="33.50" stroke="#000" stroke-width="0.55">0</text>
<text transform="translate(67.10 393.93) scale(0.6580 1)" text-anchor="end" font-size="33.50" stroke="#000" stroke-width="0.55">0.01</text>
<text transform="translate(67.10 270.15) scale(0.6580 1)" text-anchor="end" font-size="33.50" stroke="#000" stroke-width="0.55">0.02</text>
<text transform="translate(67.10 146.36) scale(0.6580 1)" text-anchor="end" font-size="33.50" stroke="#000" stroke-width="0.55">0.03</text>
<text transform="translate(67.10 22.57) scale(0.6580 1)" text-anchor="end" font-size="33.50" stroke="#000" stroke-width="0.55">0.04</text>
<text transform="translate(868.51 535.90) scale(0.7280 1)" text-anchor="middle" font-size="31.00" stroke="#000" stroke-width="0.55">-5.9</text>
<text transform="translate(976.17 535.90) scale(0.7280 1)" text-anchor="middle" font-size="31.00" stroke="#000" stroke-width="0.55">0</text>
<text transform="translate(1083.82 535.90) scale(0.7280 1)" text-anchor="middle" font-size="31.00" stroke="#000" stroke-width="0.55">5.9</text>
<text transform="translate(1191.48 535.90) scale(0.7280 1)" text-anchor="middle" font-size="31.00" stroke="#000" stroke-width="0.55">11.8</text>
<text transform="translate(1299.13 535.90) scale(0.7280 1)" text-anchor="middle" font-size="31.00" stroke="#000" stroke-width="0.55">17.7</text>
<text transform="translate(788.70 520.12) scale(0.6580 1)" text-anchor="end" font-size="33.50" stroke="#000" stroke-width="0.55">0</text>
<text transform="translate(788.70 270.15) scale(0.6580 1)" text-anchor="end" font-size="33.50" stroke="#000" stroke-width="0.55">0.01</text>
<text transform="translate(788.70 22.57) scale(0.6580 1)" text-anchor="end" font-size="33.50" stroke="#000" stroke-width="0.55">0.02</text>
<text transform="translate(345.55 556.50) scale(0.6800 1)" text-anchor="middle" font-size="30.00">w</text>
<text transform="translate(1068.20 560.60) scale(0.6800 1)" text-anchor="middle" font-size="30.00">w</text>
<text transform="translate(15.80 255.60) scale(0.8450 1) rotate(-90)" text-anchor="middle" font-weight="normal" font-size="29.2" stroke="#000" stroke-width="0.45">pdf (w)</text>
<text transform="translate(737.40 255.60) scale(0.8450 1) rotate(-90)" text-anchor="middle" font-weight="normal" font-size="29.2" stroke="#000" stroke-width="0.45">pdf (w)</text>
<text transform="translate(609.00 51.70) scale(1.0000 1)" text-anchor="end" font-size="32.60">(a)</text>
<text transform="translate(1334.10 51.70) scale(1.0000 1)" text-anchor="end" font-size="32.60">(b)</text>
</svg>
</body></html>
